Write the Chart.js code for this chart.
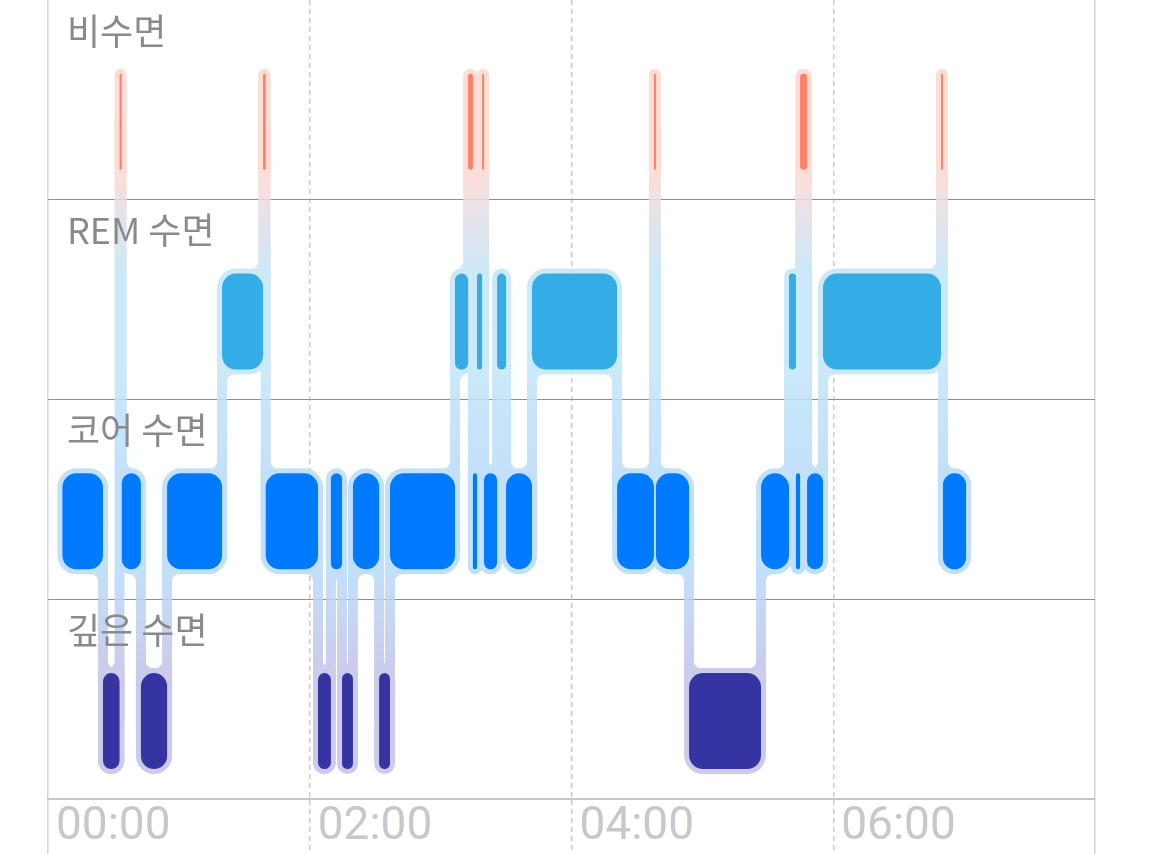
<!DOCTYPE html>
<html>
<head>
<meta charset="utf-8">
<script src="https://cdn.jsdelivr.net/npm/chart.js@4/dist/chart.umd.min.js"></script>
<style>
html,body{margin:0;padding:0;background:#fff;}
#wrap{width:1170px;height:854px;position:relative;}
</style>
</head>
<body>
<div id="wrap"><canvas id="c" width="1170" height="854"></canvas></div>
<script>
// ---- data (minutes after 00:00) ----
const stageLabels = ['깊은 수면', '코어 수면', 'REM 수면', '비수면']; // row 0 = bottom
const tickMinutes = [0, 120, 240, 360, 480];
const tickLabels = ['00:00', '02:00', '04:00', '06:00', ''];
const segStart = [6.6, 25.2, 32.8, 33.8, 42.6, 54.6, 79.8, 98.6, 99.8, 123.8, 129.7, 134.8, 139.8, 151.8, 156.8, 186.6, 192.6, 194.8, 196.7, 199.0, 199.9, 205.9, 210.0, 221.9, 260.9, 277.8, 278.7, 293.9, 326.9, 339.7, 342.9, 344.8, 348.0, 355.3, 409.4, 410.3];
const segEnd   = [25.2, 32.8, 33.8, 42.6, 54.6, 79.8, 98.6, 99.8, 123.8, 129.7, 134.8, 139.8, 151.8, 156.8, 186.6, 192.6, 194.8, 196.7, 199.0, 199.9, 205.9, 210.0, 221.9, 260.9, 277.8, 278.7, 293.9, 326.9, 339.7, 342.9, 344.8, 348.0, 355.3, 409.4, 410.3, 420.9];
const segStage = [1, 0, 3, 1, 0, 1, 2, 3, 1, 0, 1, 0, 1, 0, 1, 2, 3, 1, 2, 3, 1, 2, 1, 2, 1, 3, 1, 0, 1, 2, 1, 3, 1, 2, 3, 1];

// ---- styles ----
const stageColors = ['#3634A3', '#007AFF', '#34ADE6', '#FF8066'];
const BAR_POS = 0.39;      // bar centre inside its row (row units)
const BAR_THICK = 96;
const PAD = 5, MINW = 12, CW = 10, FR = 7, INNER_R = 14;

function rr4(c, x, y, w, h, rad) {
  const m = Math.min(w / 2, h / 2);
  const [tl, tr, br, bl] = rad.map(r => Math.min(r, m));
  c.moveTo(x + tl, y);
  c.lineTo(x + w - tr, y);
  if (tr) c.arcTo(x + w, y, x + w, y + tr, tr); else c.lineTo(x + w, y);
  c.lineTo(x + w, y + h - br);
  if (br) c.arcTo(x + w, y + h, x + w - br, y + h, br); else c.lineTo(x + w, y + h);
  c.lineTo(x + bl, y + h);
  if (bl) c.arcTo(x, y + h, x, y + h - bl, bl); else c.lineTo(x, y + h);
  c.lineTo(x, y + tl);
  if (tl) c.arcTo(x, y, x + tl, y, tl); else c.lineTo(x, y);
  c.closePath();
}
function fillet(c, x, ey, s, v, R) {
  const cx = x + s * R, cy = ey + v * R;
  c.moveTo(x + s * R, ey);
  c.lineTo(x, ey);
  c.lineTo(x, ey + v * R);
  for (let k = 0; k <= 14; k++) {
    const t = k / 14 * Math.PI / 2;
    c.lineTo(cx - s * R * Math.cos(t), cy - v * R * Math.sin(t));
  }
  c.closePath();
}

const haloPlugin = {
  id: 'halo',
  beforeDatasetsDraw(chart) {
    const { ctx, scales: { x, y } } = chart;
    const off = document.createElement('canvas');
    off.width = chart.width; off.height = chart.height;
    const o = off.getContext('2d');
    const y0 = y.getPixelForValue(4), y1 = y.getPixelForValue(0);
    const g = o.createLinearGradient(0, y0, 0, y1);
    const stop = (v, col) => g.addColorStop(Math.min(1, Math.max(0, (y.getPixelForValue(v) - y0) / (y1 - y0))), col);
    stop(3.63, 'rgb(255,216,209)');
    stop(3.15, 'rgb(255,216,209)');
    stop(2.95, 'rgb(230,221,228)');
    stop(2.63, 'rgb(194,229,247)');
    stop(2.15, 'rgb(194,229,247)');
    stop(1.63, 'rgb(184,219,250)');
    stop(1.15, 'rgb(184,219,250)');
    stop(0.63, 'rgb(195,194,232)');
    o.fillStyle = g;

    const n = segStart.length;
    const H = [];
    for (let i = 0; i < n; i++) {
      const l = x.getPixelForValue(segStart[i]), r = x.getPixelForValue(segEnd[i]);
      const yc = y.getPixelForValue(segStage[i] + BAR_POS);
      let hl = l - PAD, hr = r + PAD;
      if (hr - hl < MINW) { const m = (l + r) / 2; hl = m - MINW / 2; hr = m + MINW / 2; }
      H.push({ hl, hr, ht: yc - BAR_THICK / 2 - PAD, hb: yc + BAR_THICK / 2 + PAD, yc });
    }
    o.beginPath();
    for (let i = 0; i < n; i++) {
      const h = H[i];
      const R = INNER_R + PAD;
      let tl = R, tr = R, br = R, bl = R;
      if (i > 0 && segStage[i - 1] !== segStage[i]) {
        if (H[i - 1].yc < h.yc) tl = 0; else bl = 0;
      }
      if (i < n - 1 && segStage[i + 1] !== segStage[i]) {
        if (H[i + 1].yc < h.yc) tr = 0; else br = 0;
      }
      rr4(o, h.hl, h.ht, h.hr - h.hl, h.hb - h.ht, [tl, tr, br, bl]);
    }
    o.fill();
    for (let i = 0; i < n - 1; i++) {
      if (segStage[i] === segStage[i + 1]) continue;
      const xt = (x.getPixelForValue(segEnd[i]) + x.getPixelForValue(segStart[i + 1])) / 2;
      const A = H[i], B = H[i + 1];
      o.beginPath();
      o.rect(xt - CW / 2, Math.min(A.yc, B.yc), CW, Math.abs(A.yc - B.yc));
      [[A, B], [B, A]].forEach(([P, Q]) => {
        const up = Q.yc < P.yc;
        const edge = up ? P.ht : P.hb;
        const v = up ? -1 : 1;
        if (P.hl <= xt - CW / 2 - FR + 0.5) fillet(o, xt - CW / 2, edge, -1, v, FR);
        if (P.hr >= xt + CW / 2 + FR - 0.5) fillet(o, xt + CW / 2, edge, 1, v, FR);
      });
      o.fill();
    }
    ctx.save();
    ctx.globalAlpha = 0.85;
    ctx.drawImage(off, 0, 0);
    ctx.restore();
  }
};

const edge = c => c.tick && (c.tick.value === 0 || c.tick.value === 480);

new Chart(document.getElementById('c'), {
  type: 'bar',
  data: {
    datasets: [{
      data: segStart.map((s, i) => ({ x: [s, segEnd[i]], y: segStage[i] + BAR_POS })),
      backgroundColor: segStage.map(s => stageColors[s]),
      borderWidth: 0,
      borderRadius: INNER_R,
      borderSkipped: false,
      barThickness: BAR_THICK,
      inflateAmount: 0
    }]
  },
  options: {
    indexAxis: 'y',
    responsive: false,
    animation: false,
    devicePixelRatio: 1,
    layout: { padding: { left: 48, right: 75, top: 0, bottom: 0 } },
    plugins: { legend: { display: false }, tooltip: { enabled: false } },
    scales: {
      x: {
        type: 'linear', min: 0, max: 480, position: 'bottom', offset: false,
        afterBuildTicks: s => { s.ticks = tickMinutes.map(v => ({ value: v })); },
        afterFit: s => { s.height = 55; s.paddingLeft = 0; s.paddingRight = 0; },
        ticks: {
          autoSkip: false, maxRotation: 0, align: 'start', labelOffset: 8, padding: -54,
          callback: (v, i) => tickLabels[i],
          color: '#C7C7CC',
          font: { family: 'Roboto', size: 46 }
        },
        grid: {
          offset: false,
          color: c => edge(c) ? 'rgba(0,0,0,0)' : '#CACACF',
          lineWidth: 1.5,
          drawTicks: true, tickLength: 55,
          tickColor: c => edge(c) ? '#D6D6DA' : '#CACACF',
          tickWidth: 1.5,
          tickBorderDash: c => edge(c) ? [] : [5, 4]
        },
        border: { display: true, color: '#C6C6C8', width: 2, dash: [5, 4] }
      },
      x2: {
        type: 'linear', min: 0, max: 480, position: 'top', offset: false,
        afterBuildTicks: s => { s.ticks = [0, 480].map(v => ({ value: v })); },
        afterFit: s => { s.height = 0; s.paddingLeft = 0; s.paddingRight = 0; },
        ticks: { display: false },
        grid: { offset: false, color: '#D6D6DA', lineWidth: 1.5, drawTicks: false },
        border: { display: false }
      },
      y: {
        type: 'linear', min: 0, max: 4, position: 'left', offset: false,
        afterBuildTicks: s => { s.ticks = [1, 2, 3, 4].map(v => ({ value: v })); },
        afterFit: s => { s.width = 0; s.paddingTop = 0; s.paddingBottom = 0; },
        ticks: {
          autoSkip: false, mirror: true, padding: 19, labelOffset: 31, z: 1,
          callback: v => stageLabels[v - 1],
          color: '#8A8A8E',
          font: { family: '"Noto Sans CJK KR"', size: 36 }
        },
        grid: {
          offset: false,
          color: c => (c.tick && c.tick.value < 4) ? '#8E8E93' : 'rgba(0,0,0,0)',
          lineWidth: 1, drawTicks: false
        },
        border: { display: false }
      }
    }
  },
  plugins: [haloPlugin]
});
</script>
</body>
</html>
